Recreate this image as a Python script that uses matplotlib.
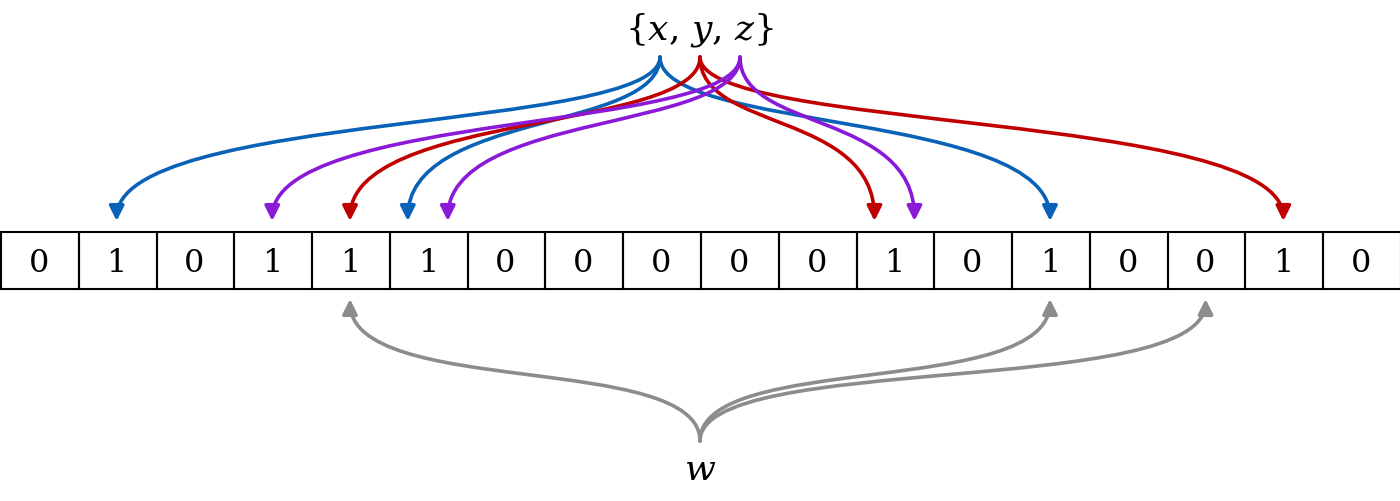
import matplotlib
matplotlib.use("Agg")
import matplotlib.pyplot as plt
from matplotlib.path import Path
from matplotlib.patches import FancyArrowPatch, Rectangle

bits = [0,1,0,1,1,1,0,0,0,0,0,1,0,1,0,0,1,0]
# (label, color, source x, target cells, target offsets)
hash_x = [1, 5, 13]
hash_y = [4, 11, 16]
hash_z = [3, 5, 11]
query_w = [4, 13, 15]

fig = plt.figure(figsize=(14, 5.02), dpi=100)
ax = fig.add_axes([0, 0, 1, 1])
ax.set_xlim(0, 1400); ax.set_ylim(502, 0); ax.axis("off")

n = len(bits)
cw = 1400 / n
top, bot = 233, 290
for i, b in enumerate(bits):
    ax.add_patch(Rectangle((i*cw + 1, top), cw, bot-top, fill=False, lw=1.5, ec="black"))
    ax.text((i+0.5)*cw, (top+bot)/2 + 2, str(b), ha="center", va="center",
            fontsize=23, family="DejaVu Serif")

def curve(sx, sy, tx, ty, color, up=False):
    if not up:
        verts = [(sx, sy), (sx, sy+75), (tx, ty-110), (tx, ty)]
    else:
        verts = [(sx, sy), (sx, sy-90), (tx, ty+100), (tx, ty)]
    p = Path(verts, [Path.MOVETO, Path.CURVE4, Path.CURVE4, Path.CURVE4])
    ax.add_patch(FancyArrowPatch(path=p, arrowstyle="-|>", mutation_scale=22,
                                 color=color, lw=2.6, shrinkA=0, shrinkB=0))

shared = {}
groups = [(hash_x, "#0a62b8", 660), (hash_y, "#c00000", 700), (hash_z, "#8a1ad8", 740)]
count = {}
for cells, _, _ in groups:
    for c in cells:
        count[c] = count.get(c, 0) + 1
seen = {}
for cells, col, sx in groups:
    for c in cells:
        cx = (c+0.5)*cw
        if count[c] > 1:
            k = seen.get(c, 0); seen[c] = k + 1
            cx += -20 if k == 0 else 20
        curve(sx, 58, cx, 222, col)
for c in query_w:
    curve(700, 442, (c+0.5)*cw, 300, "#8c8c8c", up=True)

ax.text(700, 30, r"{$x$, $y$, $z$}", ha="center", va="center", fontsize=26,
        family="DejaVu Serif", math_fontfamily="dejavuserif")
ax.text(700, 470, r"$w$", ha="center", va="center", fontsize=26, math_fontfamily="dejavuserif")
fig.savefig("out.png", dpi=100)
